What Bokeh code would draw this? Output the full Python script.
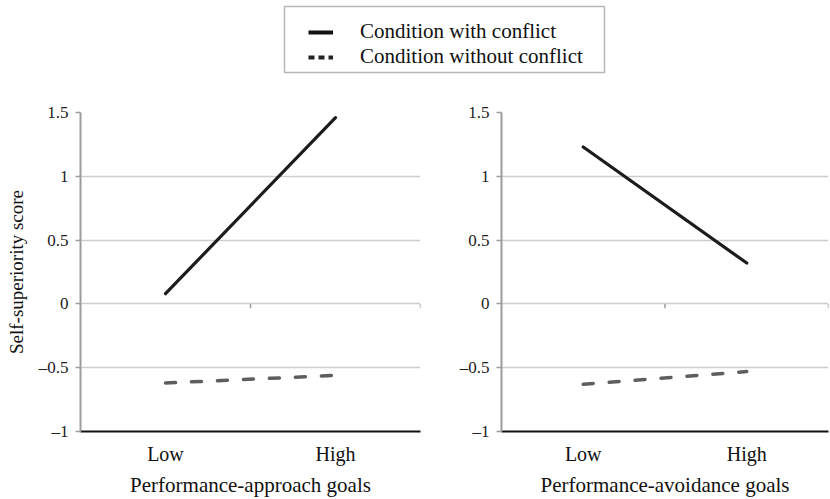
from bokeh.plotting import figure
from bokeh.models import (FactorRange, Range1d, FixedTicker, Legend, LegendItem,
                          BoxAnnotation, ColumnDataSource)
from bokeh.layouts import column, row
from bokeh.embed import file_html
from bokeh.resources import INLINE

# ---------------- data ----------------
categories = ["Low", "High"]
approach_conflict = [0.08, 1.46]
approach_no_conflict = [-0.62, -0.56]
avoidance_conflict = [1.23, 0.32]
avoidance_no_conflict = [-0.63, -0.53]
y_ticks = [-1, -0.5, 0, 0.5, 1, 1.5]
y_tick_labels = ["\u20131", "\u20130.5", "0", "0.5", "1", "1.5"]
series_names = ["Condition with conflict", "Condition without conflict"]
x_titles = ["Performance-approach goals", "Performance-avoidance goals"]
y_title = "Self-superiority score"

FONT = "Liberation Serif"
SOLID = "#1c1c1c"
DASHED = "#5e5e5e"
GRID = "#cdcdcd"
AXIS_GREY = "#9c9c9c"

LEGEND_H = 84
PANEL_H = 415


def panel(x_title, conflict, no_conflict, width, min_left, min_right, show_ylabel):
    p = figure(x_range=FactorRange(*categories), y_range=Range1d(-1, 1.5),
               width=width, height=PANEL_H, output_backend="svg", toolbar_location=None,
               min_border_left=min_left, min_border_right=min_right,
               min_border_top=28, min_border_bottom=66)
    p.outline_line_color = None
    p.xgrid.visible = False
    p.ygrid.grid_line_color = GRID
    p.ygrid.grid_line_width = 1.5

    ya = p.yaxis[0]
    ya.ticker = FixedTicker(ticks=y_ticks)
    ya.major_label_overrides = dict(zip(y_ticks, y_tick_labels))
    ya.axis_line_color = AXIS_GREY
    ya.axis_line_width = 2
    ya.major_tick_line_color = AXIS_GREY
    ya.major_tick_line_width = 1.5
    ya.major_tick_out = 5
    ya.major_tick_in = 0
    ya.minor_tick_line_color = None
    ya.major_label_text_font = FONT
    ya.major_label_text_font_size = "17px"
    ya.major_label_text_color = "#222222"
    ya.major_label_standoff = 7
    if show_ylabel:
        ya.axis_label = y_title
        ya.axis_label_text_font = FONT
        ya.axis_label_text_font_size = "19px"
        ya.axis_label_text_font_style = "normal"
        ya.axis_label_text_color = "#111111"
        ya.axis_label_standoff = 9

    xa = p.xaxis[0]
    xa.axis_line_color = "#111111"
    xa.axis_line_width = 2
    xa.major_tick_line_color = None
    xa.major_tick_out = 0
    xa.major_tick_in = 0
    xa.major_label_text_font = FONT
    xa.major_label_text_font_size = "20px"
    xa.major_label_text_color = "#111111"
    xa.major_label_standoff = 11
    xa.axis_label = x_title
    xa.axis_label_text_font = FONT
    xa.axis_label_text_font_size = "21px"
    xa.axis_label_text_font_style = "normal"
    xa.axis_label_text_color = "#111111"
    xa.axis_label_standoff = 5

    # small category-divider ticks on the zero line
    dividers = [i + 1 for i in range(len(categories))]
    tsrc = ColumnDataSource(dict(x=dividers, y0=[0] * len(dividers),
                                 y1=[-0.035] * len(dividers)))
    p.segment(x0="x", y0="y0", x1="x", y1="y1", source=tsrc,
              line_color=AXIS_GREY, line_width=1.5)

    p.line(categories, no_conflict, line_color=DASHED, line_width=3.5,
           line_dash="10 16", line_cap="round")
    p.line(categories, conflict, line_color=SOLID, line_width=3.2, line_cap="round")
    return p


left = panel(x_titles[0], approach_conflict, approach_no_conflict,
             width=456, min_left=80, min_right=36, show_ylabel=True)
right = panel(x_titles[1], avoidance_conflict, avoidance_no_conflict,
              width=374, min_left=42, min_right=2, show_ylabel=False)

# ---------------- legend strip ----------------
lf = figure(width=830, height=LEGEND_H, x_range=Range1d(0, 830),
            y_range=Range1d(0, LEGEND_H),
            output_backend="svg", toolbar_location=None, min_border=0,
            x_axis_location=None, y_axis_location=None)
lf.outline_line_color = None
lf.grid.visible = False
# sample renderers (single point, draws nothing in the plot itself)
r1 = lf.line(x=[0], y=[0], line_color="#111111", line_width=4)
r2 = lf.line(x=[0], y=[0], line_color="#222222", line_width=4, line_dash="6 4")
legend = Legend(items=[LegendItem(label=series_names[0], renderers=[r1]),
                       LegendItem(label=series_names[1], renderers=[r2])],
                location=(308, 15), orientation="vertical",
                border_line_color=None, background_fill_alpha=0,
                padding=0, spacing=0, margin=0,
                glyph_width=25, glyph_height=24, label_height=24,
                label_standoff=27, label_text_font=FONT,
                label_text_font_size="21px", label_text_color="#111111")
lf.add_layout(legend)
lf.add_layout(BoxAnnotation(left=284, right=604, bottom=12, top=78,
                            fill_alpha=0, line_color="#111111", line_width=1.5))

layout = column(lf, row(left, right))
open("out.html", "w").write(file_html(layout, INLINE))
